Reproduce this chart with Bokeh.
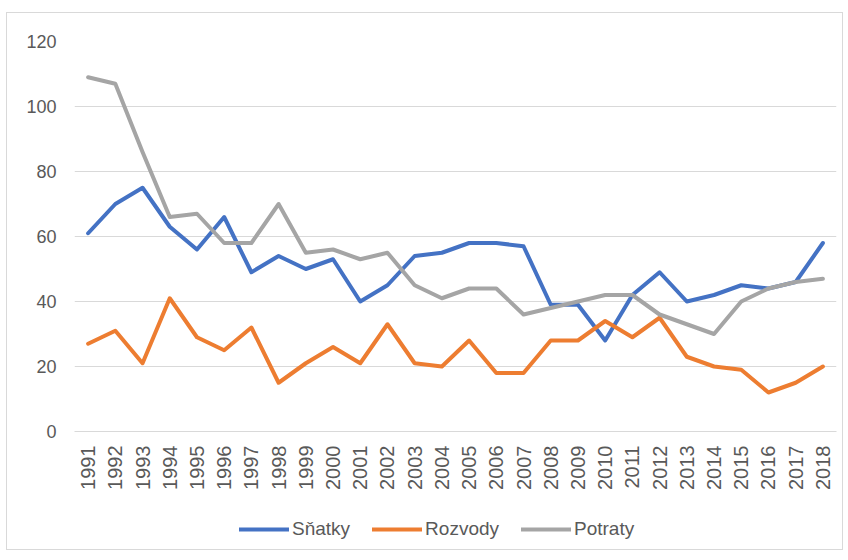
from bokeh.plotting import figure
from bokeh.layouts import column
from bokeh.models import FactorRange, Range1d, Legend, LegendItem, FixedTicker, ColumnDataSource
from bokeh.embed import file_html
from bokeh.resources import INLINE
import math

years = [str(y) for y in range(1991, 2019)]
snatky = [61, 70, 75, 63, 56, 66, 49, 54, 50, 53, 40, 45, 54, 55, 58, 58, 57, 39, 39, 28, 42, 49, 40, 42, 45, 44, 46, 58]
rozvody = [27, 31, 21, 41, 29, 25, 32, 15, 21, 26, 21, 33, 21, 20, 28, 18, 18, 28, 28, 34, 29, 35, 23, 20, 19, 12, 15, 20]
potraty = [109, 107, 86, 66, 67, 58, 58, 70, 55, 56, 53, 55, 45, 41, 44, 44, 36, 38, 40, 42, 42, 36, 33, 30, 40, 44, 46, 47]
series_names = ["Sňatky", "Rozvody", "Potraty"]
series_colors = ["#4472C4", "#ED7D31", "#A5A5A5"]
y_ticks = [0, 20, 40, 60, 80, 100, 120]

FONT = "Liberation Sans"
LABEL_COLOR = "#595959"
GRID_COLOR = "#d9d9d9"

x_range = FactorRange(factors=years, range_padding=0)

p = figure(
    width=835, height=488,
    x_range=x_range,
    y_range=Range1d(0, 120),
    output_backend="svg", toolbar_location=None,
    min_border_left=67, min_border_right=6, min_border_top=28, min_border_bottom=70,
)
p.outline_line_color = None
p.background_fill_color = "white"
p.border_fill_color = "white"

src = ColumnDataSource(dict(x=years, s=snatky, r=rozvody, t=potraty))
for col, color in zip(["s", "r", "t"], series_colors):
    p.line(x="x", y=col, source=src, line_color=color, line_width=4,
           line_join="round", line_cap="round")

p.xgrid.grid_line_color = None
p.ygrid.grid_line_color = GRID_COLOR
p.ygrid.grid_line_width = 1
p.yaxis.ticker = FixedTicker(ticks=y_ticks)

p.yaxis.axis_line_color = None
p.yaxis.major_tick_line_color = None
p.yaxis.minor_tick_line_color = None
p.yaxis.major_tick_out = 0
p.yaxis.major_label_standoff = 18
p.yaxis.major_label_text_font = FONT
p.yaxis.major_label_text_font_size = "18px"
p.yaxis.major_label_text_color = LABEL_COLOR

p.xaxis.axis_line_color = GRID_COLOR
p.xaxis.axis_line_width = 1
p.xaxis.major_tick_line_color = None
p.xaxis.minor_tick_line_color = None
p.xaxis.major_tick_out = 0
p.xaxis.major_label_orientation = math.pi / 2
p.xaxis.major_label_standoff = 14
p.xaxis.major_label_text_font = FONT
p.xaxis.major_label_text_font_size = "20px"
p.xaxis.major_label_text_color = LABEL_COLOR

# legend strip below the chart: same series, drawn out of view so only the legend shows
lg = figure(
    width=835, height=48, x_range=x_range, y_range=Range1d(1000, 1001),
    output_backend="svg", toolbar_location=None,
    x_axis_type=None, y_axis_type=None,
    min_border_left=0, min_border_right=0, min_border_top=0, min_border_bottom=0,
)
lg.outline_line_color = None
lg.grid.grid_line_color = None
legend_renderers = [
    lg.line(x="x", y=col, source=src, line_color=color, line_width=4, line_cap="round")
    for col, color in zip(["s", "r", "t"], series_colors)
]
legend = Legend(
    items=[LegendItem(label=n, renderers=[r]) for n, r in zip(series_names, legend_renderers)],
    orientation="horizontal",
    location=(165, 9),
    glyph_width=50, glyph_height=20, label_height=20,
    label_standoff=3, spacing=22, padding=0, margin=0,
    border_line_color=None, background_fill_alpha=0,
    label_text_font=FONT, label_text_font_size="19px", label_text_color=LABEL_COLOR,
)
lg.add_layout(legend, "center")

layout = column(p, lg, spacing=0,
                styles={"border": "1px solid #d9d9d9", "margin": "12px 0 0 6px"})

open("out.html", "w").write(file_html(layout, INLINE))
